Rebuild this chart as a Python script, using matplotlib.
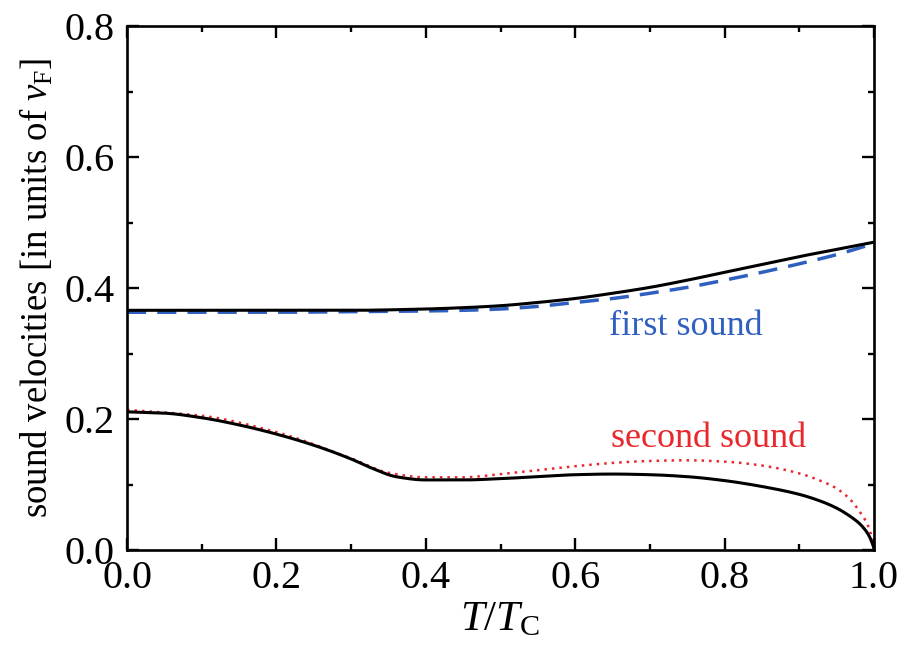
import matplotlib
matplotlib.use("Agg")
import matplotlib.pyplot as plt
import numpy as np

plt.rcParams['font.family'] = ['Liberation Serif', 'DejaVu Serif']
plt.rcParams['mathtext.fontset'] = 'custom'
plt.rcParams['mathtext.rm'] = 'Liberation Serif'
plt.rcParams['mathtext.it'] = 'Liberation Serif:italic'
plt.rcParams['mathtext.bf'] = 'Liberation Serif:bold'

# First sound
t_first = [0.0, 0.1, 0.2, 0.3, 0.4, 0.45, 0.5, 0.55, 0.6, 0.65, 0.7, 0.75, 0.8, 0.85, 0.9, 0.95, 1.0]
first_black = [0.366, 0.366, 0.366, 0.366, 0.368, 0.370, 0.373, 0.378, 0.384, 0.392, 0.401, 0.412,
               0.424, 0.436, 0.448, 0.459, 0.470]
first_blue = [0.363, 0.363, 0.363, 0.364, 0.365, 0.366, 0.368, 0.372, 0.378, 0.384, 0.392, 0.401,
              0.412, 0.424, 0.437, 0.451, 0.468]

# Second sound
t_second_red = [0.0, 0.1, 0.2, 0.3, 0.35, 0.4, 0.45, 0.5, 0.55, 0.6, 0.65, 0.7, 0.75, 0.8, 0.85,
                0.9, 0.93, 0.95, 0.97, 0.98, 0.99, 0.995, 1.0]
second_red = [0.214, 0.205, 0.180, 0.140, 0.118, 0.111, 0.111, 0.116, 0.122, 0.128, 0.133, 0.136,
              0.137, 0.135, 0.129, 0.117, 0.105, 0.094, 0.075, 0.060, 0.042, 0.028, 0.0]
t_second_black = [0.0, 0.05, 0.1, 0.15, 0.2, 0.25, 0.3, 0.33, 0.36, 0.4, 0.45, 0.5, 0.55, 0.6, 0.65,
                  0.7, 0.75, 0.8, 0.85, 0.9, 0.93, 0.95, 0.97, 0.98, 0.99, 0.995, 1.0]
second_black = [0.211, 0.209, 0.202, 0.191, 0.177, 0.160, 0.139, 0.124, 0.112, 0.107, 0.107, 0.109,
                0.112, 0.115, 0.116, 0.115, 0.112, 0.106, 0.097, 0.085, 0.074, 0.064, 0.050, 0.041,
                0.028, 0.018, 0.003]

x_ticks = [0.0, 0.2, 0.4, 0.6, 0.8, 1.0]
y_ticks = [0.0, 0.2, 0.4, 0.6, 0.8]

def smooth(x, y, n=400):
    xs = np.linspace(min(x), max(x), n)
    # monotone cubic (PCHIP-like) interpolation for drawing only
    x = np.asarray(x, float); y = np.asarray(y, float)
    h = np.diff(x); d = np.diff(y) / h
    m = np.zeros_like(y)
    for k in range(1, len(x) - 1):
        if d[k-1] * d[k] <= 0:
            m[k] = 0
        else:
            w1 = 2*h[k] + h[k-1]; w2 = h[k] + 2*h[k-1]
            m[k] = (w1 + w2) / (w1/d[k-1] + w2/d[k])
    m[0] = d[0]; m[-1] = d[-1]
    idx = np.clip(np.searchsorted(x, xs) - 1, 0, len(x) - 2)
    t = (xs - x[idx]) / h[idx]
    h00 = 2*t**3 - 3*t**2 + 1; h10 = t**3 - 2*t**2 + t
    h01 = -2*t**3 + 3*t**2; h11 = t**3 - t**2
    ys = h00*y[idx] + h10*h[idx]*m[idx] + h01*y[idx+1] + h11*h[idx]*m[idx+1]
    return xs, ys

fig = plt.figure(figsize=(9.01, 6.48), dpi=100)
ax = fig.add_axes([0.141, 0.1512, 0.829, 0.8086])

ax.plot(*smooth(t_first, first_black), color='black', lw=2.2, zorder=3)
ax.plot(*smooth(t_first, first_blue), color='#2f5fbf', lw=2.5, dashes=(5.5, 3.2), zorder=2)
ax.plot(*smooth(t_second_black, second_black), color='black', lw=2.2, zorder=3)
ax.plot(*smooth(t_second_red, second_red), color='#e8282c', lw=1.8, dashes=(1, 2.0), zorder=2)

ax.text(0.6455, 0.3285, 'first sound', color='#2f5fbf', fontsize=26, ha='left', va='baseline')
ax.text(0.6485, 0.1575, 'second sound', color='#e8282c', fontsize=26, ha='left', va='baseline')

ax.set_xlim(0, 1)
ax.set_ylim(0, 0.8)
ax.set_xticks(x_ticks)
ax.set_yticks(y_ticks)
ax.set_xticklabels([f'{v:.1f}' for v in x_ticks])
ax.set_yticklabels([f'{v:.1f}' for v in y_ticks])
ax.set_xticks(np.arange(0.1, 1.0, 0.2), minor=True)
ax.set_yticks(np.arange(0.1, 0.8, 0.2), minor=True)
ax.tick_params(which='both', direction='in', top=True, right=True, width=1.7, labelsize=29)
ax.tick_params(axis='x', pad=7)
ax.tick_params(axis='y', pad=9)
ax.tick_params(which='major', length=8.5)
ax.tick_params(which='minor', length=4.5)
for s in ax.spines.values():
    s.set_linewidth(1.9)

ax.set_xlabel(r'$T/T_{\rm C}$', fontsize=31, labelpad=3)
ax.set_ylabel(r'sound velocities [in units of $v_{\rm F}$]', fontsize=26.5, labelpad=6)

fig.savefig('out.png', dpi=100)
